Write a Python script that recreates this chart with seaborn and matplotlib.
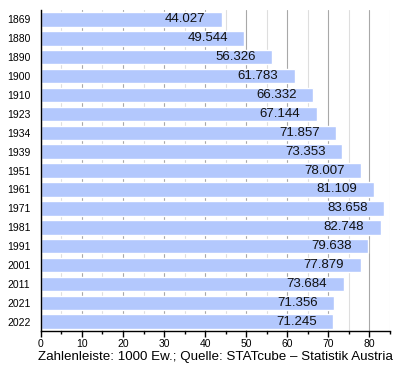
import matplotlib
matplotlib.use("Agg")
import matplotlib.pyplot as plt
from matplotlib.ticker import MultipleLocator
import seaborn as sns
import pandas as pd

years = ["1869", "1880", "1890", "1900", "1910", "1923", "1934", "1939", "1951",
         "1961", "1971", "1981", "1991", "2001", "2011", "2021", "2022"]
population = [44.027, 49.544, 56.326, 61.783, 66.332, 67.144, 71.857, 73.353, 78.007,
              81.109, 83.658, 82.748, 79.638, 77.879, 73.684, 71.356, 71.245]
labels = ["44.027", "49.544", "56.326", "61.783", "66.332", "67.144", "71.857", "73.353", "78.007",
          "81.109", "83.658", "82.748", "79.638", "77.879", "73.684", "71.356", "71.245"]

df = pd.DataFrame({"Jahr": years, "Einwohner": population})

sns.set_style("white")
plt.rcParams['font.family'] = ['Liberation Sans', 'DejaVu Sans']
plt.rcParams['text.color'] = 'black'
plt.rcParams['xtick.color'] = 'black'
plt.rcParams['ytick.color'] = 'black'
plt.rcParams['axes.labelcolor'] = 'black'

fig = plt.figure(figsize=(4, 3.7), dpi=100)
ax = fig.add_axes([0.102, 0.105, 0.873, 0.868])

sns.barplot(data=df, x="Einwohner", y="Jahr", orient="h", color="#b3c8fd",
            width=0.77, saturation=1, ax=ax, zorder=2)

for i, (v, t) in enumerate(zip(population, labels)):
    ax.text(v - 4, i, t, ha="right", va="center", fontsize=9.5, color="#111111", zorder=3)

ax.set_xlim(0, 85)
ax.set_ylim(16.5, -0.5)
ax.xaxis.set_major_locator(MultipleLocator(10))
ax.xaxis.set_minor_locator(MultipleLocator(5))
ax.grid(which="major", axis="x", color="#a8a8a8", linewidth=0.8, zorder=0)
ax.grid(which="minor", axis="x", color="#dedede", linewidth=0.8, zorder=0)
ax.grid(axis="y", visible=False)
ax.set_axisbelow(True)

for s in ["top", "right"]:
    ax.spines[s].set_visible(False)
ax.spines["left"].set_color("black")
ax.spines["bottom"].set_color("black")
ax.spines["left"].set_linewidth(1)
ax.spines["bottom"].set_linewidth(1)

ax.tick_params(axis="x", which="major", bottom=True, direction="out", length=4, width=1,
               labelsize=7.5, pad=2)
ax.tick_params(axis="x", which="minor", bottom=True, direction="out", length=2.5, width=1)
ax.tick_params(axis="y", left=False, labelsize=7.5, pad=4)

ax.set_ylabel("")
ax.set_xlabel("Zahlenleiste: 1000 Ew.; Quelle: STATcube – Statistik Austria", fontsize=9.6, labelpad=1)

fig.savefig("out.png", dpi=100)
